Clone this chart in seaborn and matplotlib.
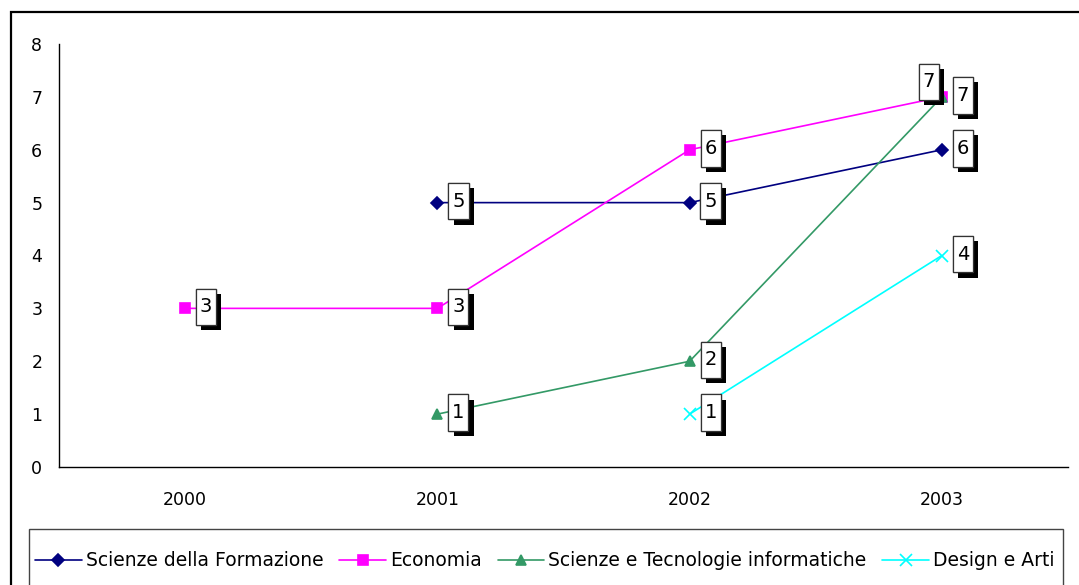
import numpy as np
import pandas as pd
import matplotlib
matplotlib.use("Agg")
import matplotlib.pyplot as plt
import matplotlib.patheffects as pe
from matplotlib.patches import Rectangle
from matplotlib.path import Path
import seaborn as sns

years = ["2000", "2001", "2002", "2003"]

series_names = [
    "Scienze della Formazione",
    "Economia",
    "Scienze e Tecnologie informatiche",
    "Design e Arti",
]
formazione = [np.nan, 5, 5, 6]
economia = [3, 3, 6, 7]
informatica = [np.nan, 1, 2, 7]
design = [np.nan, np.nan, 1, 4]

colors = ["#000080", "#FF00FF", "#339966", "#00FFFF"]
markers = ["D", "s", "^", "x"]
msizes = [6, 6.5, 7.5, 8]

sns.set_style("white")
plt.rcParams["font.family"] = ["DejaVu Sans"]
plt.rcParams.update({"text.color": "black", "xtick.color": "black", "ytick.color": "black",
                     "axes.labelcolor": "black"})

W, H = 1079, 585
fig = plt.figure(figsize=(W / 100, H / 100), dpi=100)
ax = fig.add_axes([59 / W, 1 - 467 / H, (1068 - 59) / W, (467 - 44) / H])

x = np.arange(len(years))
all_values = [formazione, economia, informatica, design]

for name, vals, c, m, ms in zip(series_names, all_values, colors, markers, msizes):
    df = pd.DataFrame({"x": x, "y": vals}).dropna()
    sns.lineplot(data=df, x="x", y="y", ax=ax, color=c, marker=m, markersize=ms,
                 markeredgecolor=c, markeredgewidth=1.2, linewidth=1.2, label=name)
ax.get_legend().remove()
handles, labels = ax.get_legend_handles_labels()


# data label box: taller than wide, like the Excel labels
def label_box(x0, y0, width, height, mutation_size):
    px = 0.2 * mutation_size
    py = 0.45 * mutation_size
    return Path([(x0 - px, y0 - py), (x0 + width + px, y0 - py),
                 (x0 + width + px, y0 + height + py), (x0 - px, y0 + height + py),
                 (x0 - px, y0 - py)], closed=True)


# Economia 2003 label sits up-left of the point
special = {(1, 3): (-13, 15)}
for si, vals in enumerate(all_values):
    for xi, v in enumerate(vals):
        if np.isnan(v):
            continue
        off = special.get((si, xi), (21, 1.5))
        t = ax.annotate(f"{int(v)}", (xi, v), xytext=off, textcoords="offset pixels",
                        ha="center", va="center", fontsize=14, zorder=5,
                        bbox=dict(boxstyle=label_box, fc="white", ec="#333333", lw=0.9))
        t.get_bbox_patch().set_path_effects(
            [pe.withSimplePatchShadow(offset=(3.8, -3.8), shadow_rgbFace="black", alpha=1), pe.Normal()])

ax.set_xlim(-0.5, 3.5)
ax.set_ylim(0, 8)
ax.set_yticks(range(0, 9))
ax.set_xticks(np.arange(-0.5, 3.6, 1.0))
ax.set_xticklabels([])
ax.set_xticks(x, minor=True)
ax.set_xticklabels(years, minor=True)
ax.tick_params(axis="x", which="major", direction="out", length=6, width=1, color="black")
ax.tick_params(axis="x", which="minor", length=0, pad=17, labelsize=12.5)
ax.tick_params(axis="y", direction="out", length=6, width=1, color="black", pad=6, labelsize=12.5)
ax.set_xlabel("")
ax.set_ylabel("")
for s in ["top", "right"]:
    ax.spines[s].set_visible(False)
for s in ["left", "bottom"]:
    ax.spines[s].set_color("black")
    ax.spines[s].set_linewidth(1)

# outer chart border (cut off at right and bottom)
fig.patches.append(Rectangle((11 / W, -0.1), 1.2, 1 - 12 / H + 0.1, transform=fig.transFigure,
                             fill=False, ec="black", lw=1.6))
# legend frame
fig.patches.append(Rectangle((29 / W, -0.1), (1063 - 29) / W, 1 - 529 / H + 0.1,
                             transform=fig.transFigure, fill=False, ec="#444444", lw=1))

fig.legend(handles, labels, loc="center left", bbox_to_anchor=(35 / W, 1 - 561 / H),
           ncol=4, frameon=False, fontsize=13.5, handlelength=2.5, handletextpad=0.2,
           columnspacing=0.85, borderpad=0, borderaxespad=0)

fig.savefig("out.png", dpi=100)
